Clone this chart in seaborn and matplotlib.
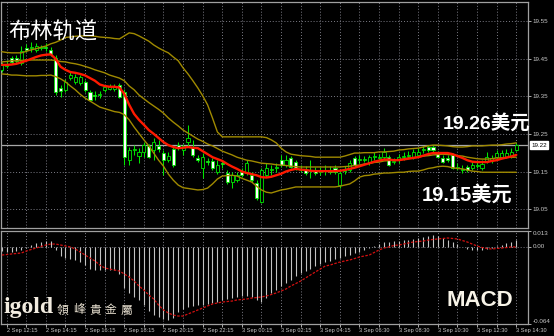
import numpy as np
import pandas as pd
import matplotlib
matplotlib.use("Agg")
import matplotlib.pyplot as plt
import matplotlib.transforms as mtransforms
import seaborn as sns

# ---------------- data ----------------
tick_labels = ["2 Sep 12:15", "2 Sep 14:15", "2 Sep 16:15", "2 Sep 18:15", "2 Sep 20:15",
               "2 Sep 22:15", "3 Sep 00:15", "3 Sep 02:15", "3 Sep 04:15", "3 Sep 06:30",
               "3 Sep 08:30", "3 Sep 10:30", "3 Sep 12:30", "3 Sep 14:30"]
price_ticks = [19.05, 19.15, 19.25, 19.35, 19.45, 19.55]
macd_ticks = [0.013, 0.0, -0.064]
macd_tick_labels = ["0.013", "0.00", "-0.064"]
last_price = 19.22

open_ = [19.420, 19.430, 19.452, 19.452, 19.438, 19.478, 19.478, 19.473, 19.478, 19.481,
         19.473, 19.452, 19.372, 19.367, 19.398, 19.388, 19.385, 19.388, 19.361, 19.353,
         19.353, 19.367, 19.369, 19.369, 19.380, 19.361, 19.180, 19.207, 19.191, 19.202,
         19.218, 19.207, 19.218, 19.199, 19.180, 19.210, 19.220, 19.207, 19.228, 19.215,
         19.186, 19.159, 19.178, 19.178, 19.148, 19.172, 19.146, 19.122, 19.127, 19.148,
         19.146, 19.140, 19.119, 19.069, 19.140, 19.154, 19.159, 19.180, 19.167, 19.186,
         19.175, 19.154, 19.157, 19.151, 19.154, 19.148, 19.151, 19.151, 19.159, 19.114,
         19.151, 19.154, 19.186, 19.180, 19.180, 19.172, 19.188, 19.186, 19.188, 19.188,
         19.175, 19.180, 19.188, 19.191, 19.188, 19.194, 19.207, 19.215, 19.215, 19.199,
         19.186, 19.186, 19.194, 19.159, 19.154, 19.162, 19.159, 19.164, 19.159, 19.178,
         19.178, 19.188, 19.188, 19.188, 19.188, 19.207]
close = [19.433, 19.436, 19.441, 19.444, 19.470, 19.473, 19.481, 19.483, 19.481, 19.478,
         19.462, 19.361, 19.364, 19.388, 19.406, 19.401, 19.401, 19.367, 19.340, 19.351,
         19.356, 19.375, 19.377, 19.377, 19.348, 19.188, 19.207, 19.210, 19.202, 19.220,
         19.188, 19.228, 19.210, 19.180, 19.191, 19.167, 19.215, 19.218, 19.239, 19.194,
         19.180, 19.188, 19.175, 19.159, 19.167, 19.170, 19.122, 19.140, 19.140, 19.140,
         19.172, 19.127, 19.079, 19.154, 19.159, 19.157, 19.162, 19.167, 19.180, 19.162,
         19.159, 19.157, 19.146, 19.154, 19.146, 19.151, 19.154, 19.148, 19.148, 19.146,
         19.154, 19.172, 19.167, 19.183, 19.183, 19.188, 19.191, 19.188, 19.202, 19.167,
         19.178, 19.188, 19.191, 19.194, 19.202, 19.202, 19.210, 19.207, 19.207, 19.188,
         19.175, 19.180, 19.159, 19.162, 19.157, 19.154, 19.167, 19.167, 19.170, 19.188,
         19.186, 19.199, 19.199, 19.199, 19.202, 19.220]
high = [19.441, 19.446, 19.457, 19.460, 19.483, 19.489, 19.494, 19.491, 19.486, 19.491,
        19.481, 19.460, 19.380, 19.396, 19.414, 19.409, 19.406, 19.393, 19.367, 19.364,
        19.364, 19.380, 19.382, 19.382, 19.385, 19.369, 19.215, 19.220, 19.212, 19.228,
        19.223, 19.239, 19.234, 19.207, 19.202, 19.218, 19.228, 19.223, 19.274, 19.234,
        19.194, 19.199, 19.186, 19.186, 19.180, 19.180, 19.154, 19.148, 19.148, 19.159,
        19.180, 19.148, 19.127, 19.159, 19.172, 19.167, 19.172, 19.194, 19.194, 19.191,
        19.180, 19.167, 19.164, 19.180, 19.162, 19.162, 19.167, 19.164, 19.167, 19.154,
        19.164, 19.180, 19.191, 19.194, 19.191, 19.194, 19.202, 19.196, 19.212, 19.194,
        19.186, 19.196, 19.202, 19.204, 19.210, 19.212, 19.218, 19.220, 19.220, 19.204,
        19.194, 19.194, 19.199, 19.172, 19.167, 19.167, 19.175, 19.175, 19.180, 19.202,
        19.194, 19.207, 19.207, 19.210, 19.212, 19.226]
low = [19.414, 19.425, 19.436, 19.438, 19.433, 19.468, 19.468, 19.468, 19.473, 19.470,
       19.457, 19.353, 19.348, 19.361, 19.393, 19.382, 19.380, 19.361, 19.337, 19.340,
       19.345, 19.361, 19.367, 19.364, 19.345, 19.167, 19.167, 19.194, 19.172, 19.188,
       19.186, 19.180, 19.202, 19.140, 19.175, 19.162, 19.207, 19.194, 19.215, 19.188,
       19.175, 19.132, 19.167, 19.154, 19.143, 19.159, 19.117, 19.106, 19.122, 19.135,
       19.140, 19.122, 19.074, 19.066, 19.135, 19.140, 19.148, 19.162, 19.162, 19.159,
       19.154, 19.148, 19.140, 19.132, 19.140, 19.140, 19.140, 19.143, 19.143, 19.106,
       19.143, 19.148, 19.162, 19.172, 19.175, 19.167, 19.180, 19.178, 19.183, 19.164,
       19.170, 19.172, 19.180, 19.186, 19.183, 19.188, 19.199, 19.202, 19.202, 19.186,
       19.172, 19.175, 19.157, 19.154, 19.146, 19.148, 19.154, 19.159, 19.154, 19.172,
       19.172, 19.183, 19.186, 19.186, 19.186, 19.204]
ma_red = [19.433, 19.433, 19.434, 19.436, 19.440, 19.444, 19.449, 19.454, 19.458, 19.460,
          19.461, 19.449, 19.428, 19.420, 19.414, 19.412, 19.409, 19.405, 19.398, 19.391,
          19.381, 19.377, 19.375, 19.375, 19.373, 19.356, 19.327, 19.303, 19.287, 19.274,
          19.260, 19.250, 19.239, 19.228, 19.220, 19.215, 19.212, 19.213, 19.215, 19.213,
          19.212, 19.204, 19.196, 19.188, 19.183, 19.178, 19.170, 19.163, 19.157, 19.150,
          19.146, 19.143, 19.140, 19.135, 19.134, 19.136, 19.140, 19.144, 19.150, 19.154,
          19.157, 19.155, 19.154, 19.152, 19.151, 19.151, 19.151, 19.151, 19.151, 19.152,
          19.154, 19.157, 19.160, 19.164, 19.168, 19.172, 19.176, 19.179, 19.182, 19.182,
          19.180, 19.180, 19.182, 19.184, 19.186, 19.188, 19.192, 19.196, 19.199, 19.199,
          19.199, 19.199, 19.196, 19.191, 19.186, 19.180, 19.176, 19.175, 19.175, 19.175,
          19.178, 19.180, 19.184, 19.187, 19.190, 19.194]
bb_upper = [19.468, 19.466, 19.465, 19.465, 19.465, 19.469, 19.473, 19.476, 19.480, 19.483,
            19.489, 19.493, 19.499, 19.506, 19.507, 19.509, 19.510, 19.510, 19.510, 19.509,
            19.507, 19.506, 19.505, 19.503, 19.502, 19.510, 19.518, 19.516, 19.510, 19.503,
            19.496, 19.486, 19.478, 19.471, 19.465, 19.454, 19.444, 19.425, 19.409, 19.391,
            19.372, 19.351, 19.327, 19.292, 19.255, 19.242, 19.242, 19.242, 19.242, 19.242,
            19.242, 19.242, 19.242, 19.242, 19.240, 19.234, 19.226, 19.212, 19.202, 19.196,
            19.194, 19.192, 19.191, 19.190, 19.188, 19.188, 19.188, 19.188, 19.188, 19.188,
            19.191, 19.195, 19.199, 19.199, 19.200, 19.200, 19.200, 19.202, 19.202, 19.203,
            19.204, 19.207, 19.208, 19.210, 19.211, 19.212, 19.215, 19.218, 19.220, 19.220,
            19.219, 19.218, 19.216, 19.215, 19.215, 19.216, 19.218, 19.218, 19.218, 19.219,
            19.220, 19.220, 19.221, 19.223, 19.224, 19.226]
bb_mid = [19.441, 19.442, 19.444, 19.444, 19.445, 19.446, 19.446, 19.446, 19.446, 19.446,
          19.446, 19.445, 19.442, 19.441, 19.438, 19.436, 19.433, 19.429, 19.425, 19.420,
          19.416, 19.412, 19.406, 19.402, 19.398, 19.391, 19.377, 19.367, 19.353, 19.343,
          19.333, 19.324, 19.315, 19.305, 19.292, 19.281, 19.271, 19.260, 19.252, 19.244,
          19.236, 19.230, 19.223, 19.218, 19.211, 19.204, 19.199, 19.194, 19.188, 19.184,
          19.180, 19.178, 19.175, 19.172, 19.171, 19.170, 19.168, 19.167, 19.166, 19.164,
          19.163, 19.162, 19.162, 19.162, 19.162, 19.162, 19.162, 19.162, 19.162, 19.162,
          19.163, 19.164, 19.166, 19.167, 19.170, 19.171, 19.174, 19.175, 19.178, 19.179,
          19.180, 19.182, 19.183, 19.186, 19.187, 19.188, 19.191, 19.192, 19.194, 19.195,
          19.196, 19.195, 19.194, 19.192, 19.191, 19.188, 19.186, 19.184, 19.183, 19.183,
          19.184, 19.186, 19.186, 19.187, 19.188, 19.188]
bb_lower = [19.409, 19.408, 19.406, 19.406, 19.405, 19.404, 19.404, 19.404, 19.405, 19.405,
            19.406, 19.402, 19.396, 19.388, 19.377, 19.367, 19.355, 19.345, 19.337, 19.329,
            19.321, 19.317, 19.313, 19.309, 19.307, 19.301, 19.287, 19.268, 19.251, 19.234,
            19.218, 19.199, 19.180, 19.164, 19.143, 19.127, 19.114, 19.107, 19.105, 19.103,
            19.101, 19.102, 19.106, 19.117, 19.130, 19.138, 19.139, 19.140, 19.138, 19.132,
            19.127, 19.122, 19.111, 19.101, 19.095, 19.093, 19.097, 19.101, 19.103, 19.106,
            19.109, 19.109, 19.109, 19.109, 19.109, 19.109, 19.109, 19.109, 19.109, 19.111,
            19.114, 19.117, 19.125, 19.135, 19.139, 19.140, 19.143, 19.144, 19.146, 19.146,
            19.147, 19.148, 19.148, 19.150, 19.151, 19.151, 19.154, 19.158, 19.160, 19.163,
            19.164, 19.163, 19.160, 19.158, 19.157, 19.154, 19.151, 19.150, 19.148, 19.148,
            19.148, 19.148, 19.148, 19.148, 19.148, 19.148]
macd_hist = [-0.0036, -0.0044, -0.0044, -0.0036, -0.0027, -0.0011, 0.0014, 0.0031, 0.0039, 0.0047,
             0.0047, -0.0027, -0.0077, -0.0094, -0.0102, -0.0110, -0.0127, -0.0152, -0.0185, -0.0193,
             -0.0193, -0.0193, -0.0193, -0.0193, -0.0226, -0.0342, -0.0383, -0.0416, -0.0441, -0.0483,
             -0.0532, -0.0566, -0.0582, -0.0599, -0.0607, -0.0590, -0.0541, -0.0516, -0.0499, -0.0491,
             -0.0483, -0.0483, -0.0474, -0.0466, -0.0458, -0.0441, -0.0433, -0.0425, -0.0416, -0.0408,
             -0.0408, -0.0416, -0.0441, -0.0458, -0.0425, -0.0383, -0.0359, -0.0325, -0.0301, -0.0276,
             -0.0243, -0.0218, -0.0201, -0.0185, -0.0160, -0.0143, -0.0127, -0.0118, -0.0102, -0.0094,
             -0.0077, -0.0069, -0.0052, -0.0044, -0.0027, -0.0011, 0.0006, 0.0022, 0.0039, 0.0039,
             0.0047, 0.0047, 0.0055, 0.0055, 0.0064, 0.0072, 0.0080, 0.0089, 0.0097, 0.0089,
             0.0072, 0.0055, 0.0039, 0.0022, -0.0002, -0.0019, -0.0027, -0.0027, -0.0027, -0.0019,
             -0.0011, 0.0006, 0.0014, 0.0031, 0.0039, 0.0055]
macd_signal = [-0.0069, -0.0065, -0.0060, -0.0056, -0.0052, -0.0036, -0.0023, -0.0011, 0.0002, 0.0014,
               0.0022, 0.0022, 0.0014, 0.0006, -0.0002, -0.0019, -0.0044, -0.0069, -0.0094, -0.0118,
               -0.0152, -0.0176, -0.0185, -0.0193, -0.0201, -0.0226, -0.0251, -0.0284, -0.0325, -0.0359,
               -0.0400, -0.0433, -0.0483, -0.0524, -0.0549, -0.0566, -0.0574, -0.0574, -0.0557, -0.0541,
               -0.0524, -0.0508, -0.0491, -0.0474, -0.0466, -0.0458, -0.0454, -0.0450, -0.0441, -0.0437,
               -0.0433, -0.0425, -0.0421, -0.0416, -0.0408, -0.0396, -0.0383, -0.0367, -0.0350, -0.0325,
               -0.0305, -0.0284, -0.0259, -0.0234, -0.0209, -0.0185, -0.0160, -0.0152, -0.0139, -0.0127,
               -0.0118, -0.0110, -0.0098, -0.0085, -0.0077, -0.0069, -0.0048, -0.0027, -0.0011, -0.0002,
               0.0010, 0.0014, 0.0022, 0.0031, 0.0039, 0.0043, 0.0047, 0.0055, 0.0060, 0.0064,
               0.0068, 0.0072, 0.0068, 0.0064, 0.0051, 0.0039, 0.0022, 0.0006, -0.0007, -0.0015,
               -0.0019, -0.0015, -0.0011, -0.0007, -0.0002, -0.0002]

# ---------------- styling ----------------
sns.set_theme(style="dark", rc={
    "axes.facecolor": "black", "figure.facecolor": "black",
    "savefig.facecolor": "black", "axes.edgecolor": "#a0a0a0",
})
plt.rcParams["font.family"] = ["DejaVu Sans", "Noto Sans CJK SC"]

df = pd.DataFrame({"bar": np.arange(len(close)), "open": open_, "high": high, "low": low,
                   "close": close, "ma": ma_red, "up": bb_upper, "mid": bb_mid, "lo": bb_lower,
                   "hist": macd_hist, "signal": macd_signal})

LIME = "#00e600"
BAND = "#a08a00"
GRID = "#7c7c86"
TXT = "#c8c8c8"
SMALL = ["Liberation Sans", "DejaVu Sans"]

W, H = 554, 336
fig = plt.figure(figsize=(W / 100, H / 100), dpi=100)
ax = fig.add_axes([1 / W, 1 - 228 / H, 527 / W, 226 / H])
ax2 = fig.add_axes([1 / W, 1 - 324 / H, 527 / W, 93 / H], sharex=ax)

xlim = (-0.163, 107.39)
grid_bars = np.arange(1, len(close), 4)
label_bars = np.arange(1, len(close), 8)

for a in (ax, ax2):
    a.set_facecolor("black")
    for s in a.spines.values():
        s.set_color("#a0a0a0")
        s.set_linewidth(0.9)
    a.set_xlim(*xlim)
    a.set_xticks(grid_bars)
    a.grid(True, axis="x", color=GRID, lw=0.7, ls=(0, (1, 2)))

# ---- main price panel ----
ax.set_ylim(19.0, 19.60)
ax.set_yticks(price_ticks)
ax.set_yticklabels([f"{v:.2f}" for v in price_ticks], family=SMALL)
ax.grid(True, axis="y", color=GRID, lw=0.7, ls=(0, (1, 2)))
ax.yaxis.tick_right()
ax.tick_params(axis="y", labelsize=4.5, colors=TXT, length=2, width=0.6, pad=1.5, right=True, left=False)
ax.tick_params(axis="x", length=0, labelbottom=False)
ax.set_xlabel("")
ax.set_ylabel("")

ax.axhline(last_price, color="#a8a8a8", lw=0.9, zorder=1.5)

# candles
o = df["open"].to_numpy(); c = df["close"].to_numpy()
bull = c >= o
ax.vlines(df["bar"], df["low"], df["high"], color=LIME, lw=0.75, zorder=2)
body_bottom = np.minimum(o, c)
body_h = np.maximum(np.abs(c - o), 0.0006)
ax.bar(df["bar"], body_h, bottom=body_bottom, width=0.62,
       color=np.where(bull, "black", "white"), edgecolor=LIME, linewidth=0.6, zorder=3)

# bands and moving average
for col in ("up", "mid", "lo"):
    sns.lineplot(data=df, x="bar", y=col, ax=ax, color=BAND, lw=1.0, estimator=None, zorder=4)
sns.lineplot(data=df, x="bar", y="ma", ax=ax, color="#ff1a00", lw=1.7, estimator=None, zorder=5)
ax.set_xlabel(""); ax.set_ylabel("")

trans = mtransforms.blended_transform_factory(ax.transAxes, ax.transData)
ax.text(1.006, last_price, f"{last_price:.2f}", transform=trans, fontsize=4.5, color="black",
        va="center", ha="left", family=SMALL,
        bbox=dict(boxstyle="square,pad=0.2", fc="white", ec="white"), zorder=10, clip_on=False)

# ---- MACD panel ----
ax2.set_ylim(-0.064, 0.013)
ax2.vlines(df["bar"], 0, df["hist"], color="#c4c4c4", lw=0.8, zorder=2)
sns.lineplot(data=df, x="bar", y="signal", ax=ax2, color="#d41010", lw=0.9,
             estimator=None, zorder=3, linestyle=(0, (2, 1.2)))
ax2.axhline(0, color=GRID, lw=0.7, ls=(0, (1, 2)), zorder=1)
ax2.set_xlabel(""); ax2.set_ylabel("")
ax2.yaxis.tick_right()
ax2.set_yticks(macd_ticks)
ax2.set_yticklabels(macd_tick_labels, family=SMALL)
ax2.tick_params(axis="y", labelsize=4.5, colors=TXT, length=2, width=0.6, pad=1.5, right=True, left=False)
for lab, va in zip(ax2.get_yticklabels(), ["top", "center", "bottom"]):
    lab.set_va(va)
xt_labels = []
for b in grid_bars:
    idx = np.where(label_bars == b)[0]
    xt_labels.append(tick_labels[idx[0]] if len(idx) else "")
ax2.set_xticks(grid_bars)
ax2.set_xticklabels(xt_labels, family=SMALL)
ax2.tick_params(axis="x", labelsize=4.1, colors=TXT, length=2, width=0.6, pad=1, bottom=True)
for lab in ax2.get_xticklabels():
    lab.set_ha("left")

# ---- annotations ----
cjk = ["Liberation Sans", "Noto Sans CJK SC"]
fig.text(8 / W, 1 - 31 / H, "布林轨道", fontsize=16, color="white", va="center", ha="left",
         family=["Noto Sans CJK SC", "DejaVu Sans"])
fig.text(443 / W, 1 - 123 / H, "19.26美元", fontsize=14, color="white", va="center", ha="left",
         family=cjk, weight="bold")
fig.text(422 / W, 1 - 195 / H, "19.15美元", fontsize=14.5, color="white", va="center", ha="left",
         family=cjk, weight="bold")
fig.text(447 / W, 1 - 300 / H, "MACD", fontsize=16, color="#f8f4e8", va="center", ha="left",
         family=["Liberation Sans", "DejaVu Sans"], weight="bold")
fig.text(3 / W, 1 - 308 / H, "igold", fontsize=17, color="#f2ece0", va="center", ha="left",
         family=["Liberation Serif", "DejaVu Serif"], weight="bold")
for i, ch in enumerate("領峰貴金屬"):
    fig.text((57 + 16 * i) / W, 1 - 310 / H, ch, fontsize=8.5, color="#e8e0d0", va="center",
             ha="left", family=["Noto Sans CJK TC", "DejaVu Sans"])

fig.savefig("out.png", dpi=100, facecolor="black")
